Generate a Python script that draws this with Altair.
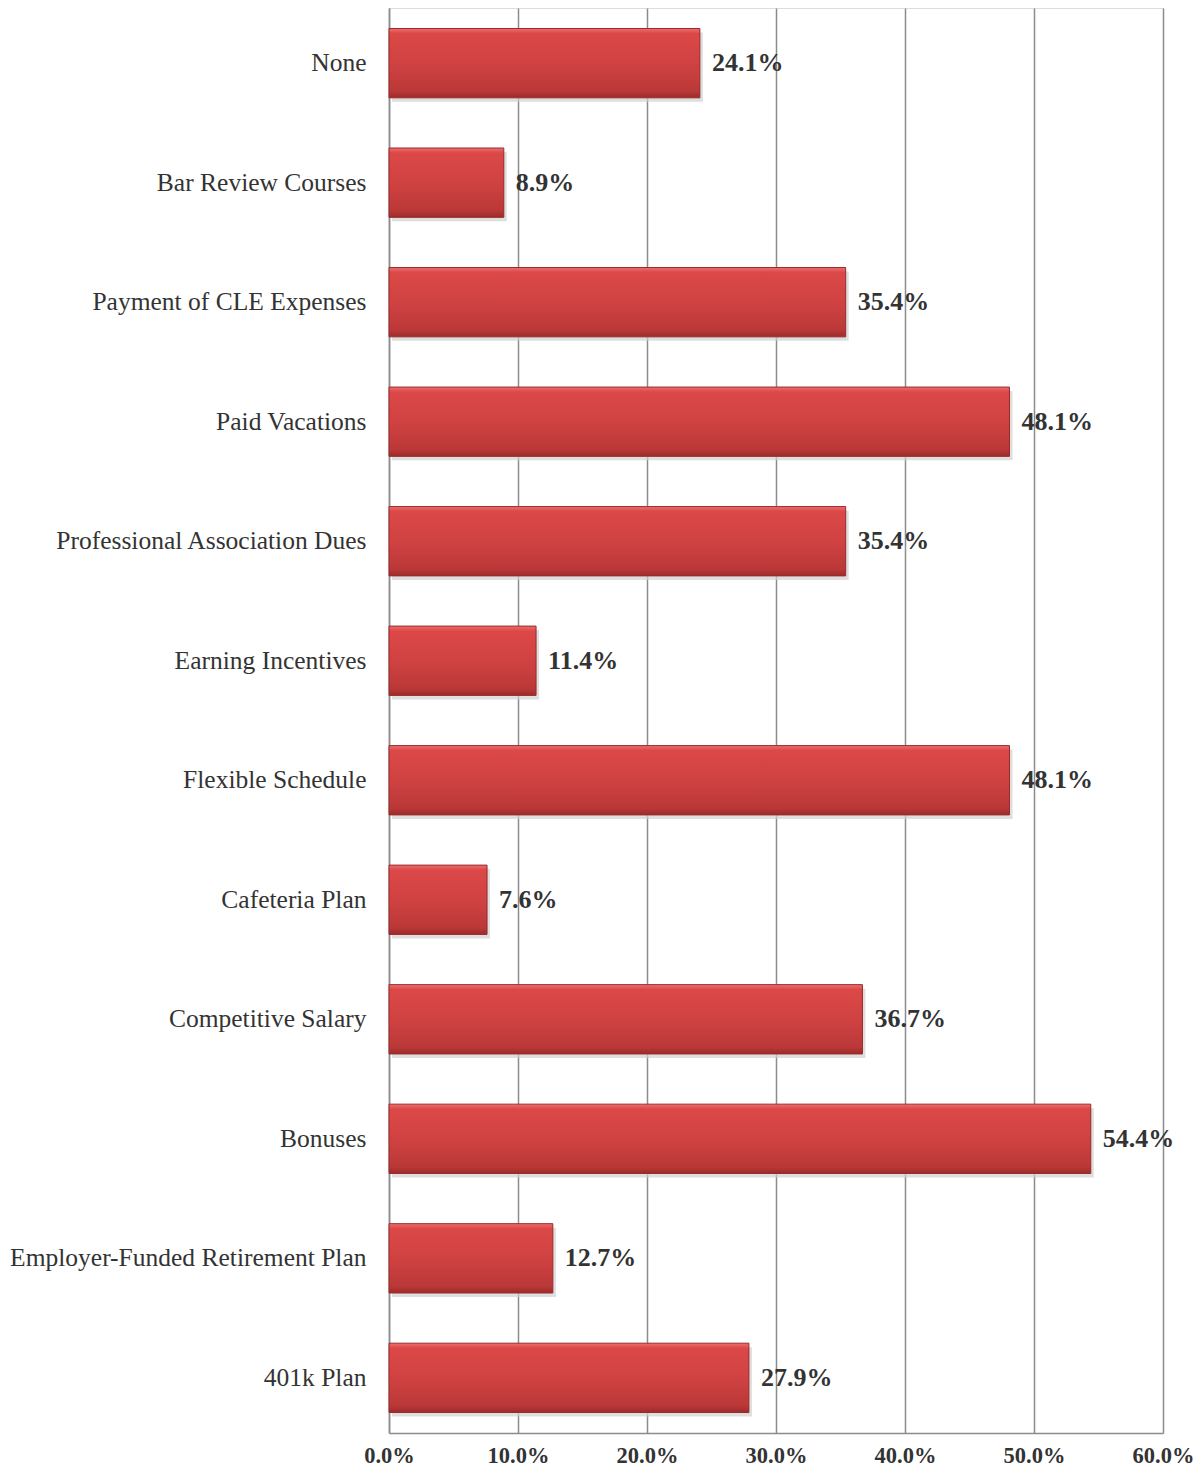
import altair as alt
import pandas as pd

categories = [
    "None",
    "Bar Review Courses",
    "Payment of CLE Expenses",
    "Paid Vacations",
    "Professional Association Dues",
    "Earning Incentives",
    "Flexible Schedule",
    "Cafeteria Plan",
    "Competitive Salary",
    "Bonuses",
    "Employer-Funded Retirement Plan",
    "401k Plan",
]
values = [24.1, 8.9, 35.4, 48.1, 35.4, 11.4, 48.1, 7.6, 36.7, 54.4, 12.7, 27.9]
x_ticks = [0, 10, 20, 30, 40, 50, 60]

df = pd.DataFrame({
    "category": categories,
    "value": values,
    "label": [f"{v:.1f}%" for v in values],
})

FONT = "Liberation Serif"

y_enc = alt.Y(
    "category:N",
    sort=categories,
    scale=alt.Scale(paddingInner=0.42, paddingOuter=0.1715, align=0.5),
    axis=alt.Axis(
        title=None,
        labelFont=FONT,
        labelFontSize=25.5,
        labelColor="#333333",
        labelPadding=23,
        ticks=False,
        domainColor="#8c8c8c",
        domainWidth=1.5,
        labelLimit=500,
    ),
)
x_enc = alt.X(
    "value:Q",
    scale=alt.Scale(domain=[0, 60], nice=False),
    axis=alt.Axis(
        title=None,
        values=x_ticks,
        labelExpr="format(datum.value, '.1f') + '%'",
        labelFont=FONT,
        labelFontSize=22.5,
        labelFontWeight="bold",
        labelColor="#333333",
        labelPadding=11,
        labelFlush=False,
        ticks=False,
        grid=True,
        gridColor="#8c8c8c",
        gridWidth=1.5,
        domainColor="#8c8c8c",
        domainWidth=1.5,
    ),
)

gradient = alt.Gradient(
    gradient="linear",
    x1=0, y1=0, x2=0, y2=1,
    stops=[
        alt.GradientStop(color="#ec7070", offset=0),
        alt.GradientStop(color="#dc4848", offset=0.07),
        alt.GradientStop(color="#d04242", offset=0.5),
        alt.GradientStop(color="#bb3838", offset=0.9),
        alt.GradientStop(color="#9c2b2b", offset=1),
    ],
)

shadow = alt.Chart(df).mark_bar(color="#d0d0d0", opacity=0.7, yOffset=4, xOffset=3).encode(
    y=y_enc, x=x_enc
)
bars = alt.Chart(df).mark_bar(color=gradient, stroke="#9a2a2a", strokeWidth=1).encode(
    y=y_enc, x=x_enc
)
labels = alt.Chart(df).mark_text(
    align="left", baseline="middle", dx=12, font=FONT, fontSize=26,
    fontWeight="bold", color="#333333"
).encode(y=y_enc, x=x_enc, text="label:N")

chart = (
    alt.layer(shadow, bars, labels)
    .properties(
        width=774,
        height=1425,
        autosize=alt.AutoSizeParams(type="none"),
        padding={"left": 381, "top": 0, "right": 30, "bottom": 36},
    )
    .configure_view(stroke=None)
    .configure(background="white")
)

chart.save("out.html", embed_options={"renderer": "svg", "actions": False})
